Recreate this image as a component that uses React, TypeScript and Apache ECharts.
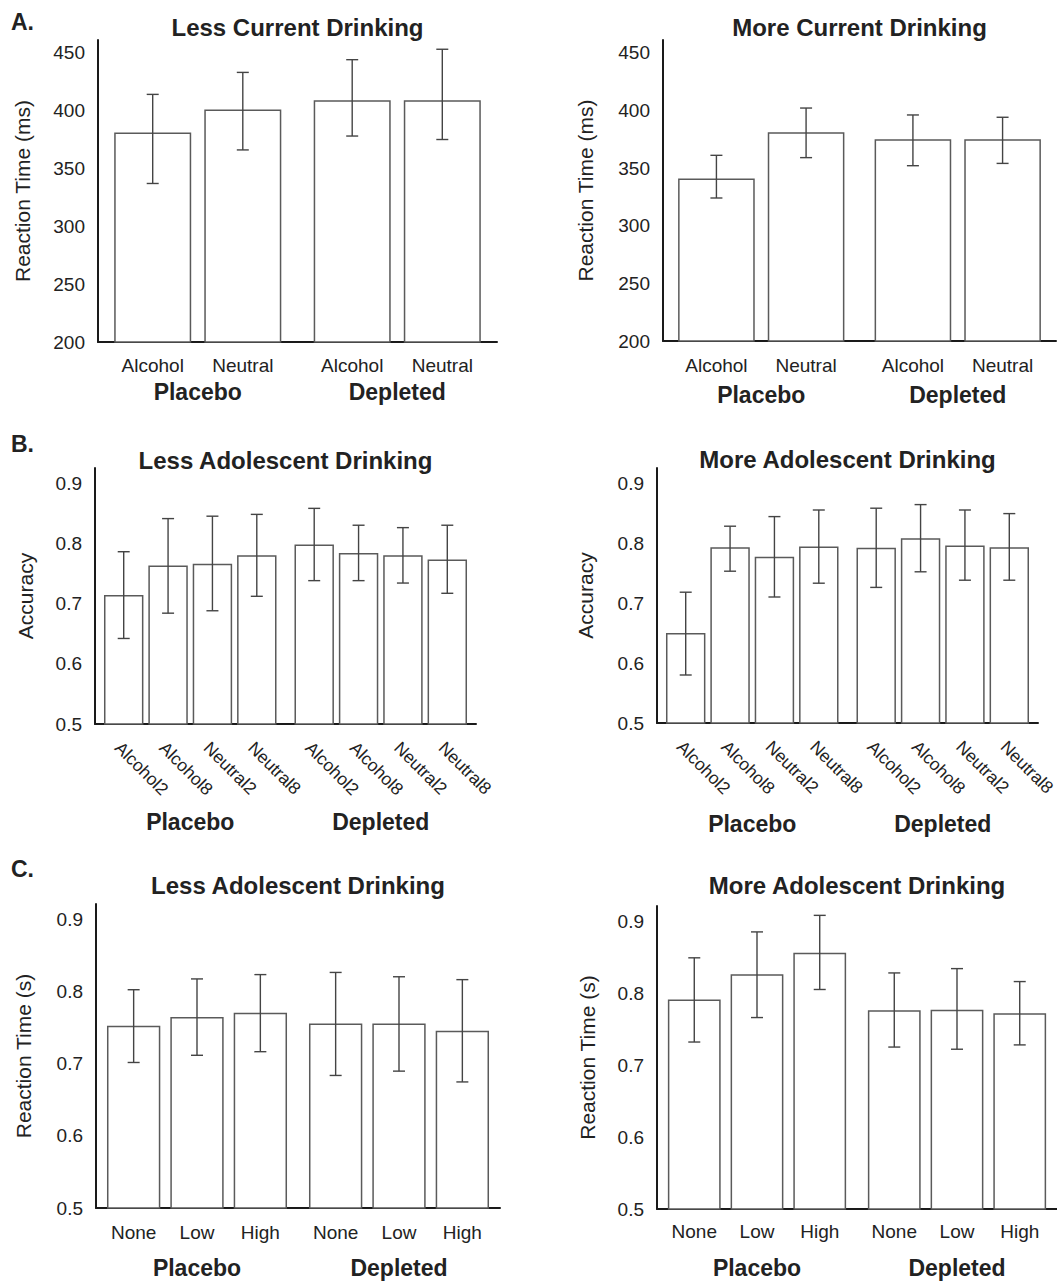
import React, { useEffect, useRef } from "react";
import * as echarts from "echarts";

// ---------------- DATA ----------------
const groups = ["Placebo", "Depleted"];

// Panel A: reaction time (ms), series = cue type, values per group [Placebo, Depleted]
const cueTypesA = ["Alcohol", "Neutral"];
const lessCurrentMean = [[381, 409], [401, 409]];
const lessCurrentLow = [[337, 378], [366, 375]];
const lessCurrentHigh = [[414, 444], [433, 453]];
const moreCurrentMean = [[341, 375], [381, 375]];
const moreCurrentLow = [[324, 352], [359, 354]];
const moreCurrentHigh = [[361, 396], [402, 394]];

// Panel B: accuracy
const cueTypesB = ["Alcohol2", "Alcohol8", "Neutral2", "Neutral8"];
const lessAdolAccMean = [[0.714, 0.798], [0.763, 0.784], [0.766, 0.78], [0.78, 0.773]];
const lessAdolAccLow = [[0.642, 0.738], [0.684, 0.738], [0.688, 0.734], [0.712, 0.717]];
const lessAdolAccHigh = [[0.786, 0.858], [0.841, 0.83], [0.845, 0.826], [0.848, 0.83]];
const moreAdolAccMean = [[0.65, 0.792], [0.793, 0.808], [0.777, 0.796], [0.794, 0.793]];
const moreAdolAccLow = [[0.58, 0.726], [0.753, 0.752], [0.71, 0.738], [0.733, 0.738]];
const moreAdolAccHigh = [[0.718, 0.858], [0.828, 0.864], [0.844, 0.855], [0.855, 0.849]];

// Panel C: reaction time (s)
const levelsC = ["None", "Low", "High"];
const lessAdolRTMean = [[0.753, 0.756], [0.765, 0.756], [0.771, 0.746]];
const lessAdolRTLow = [[0.702, 0.684], [0.712, 0.69], [0.717, 0.675]];
const lessAdolRTHigh = [[0.803, 0.827], [0.818, 0.821], [0.824, 0.817]];
const moreAdolRTMean = [[0.791, 0.776], [0.826, 0.777], [0.856, 0.772]];
const moreAdolRTLow = [[0.732, 0.725], [0.766, 0.722], [0.805, 0.728]];
const moreAdolRTHigh = [[0.849, 0.828], [0.885, 0.834], [0.908, 0.816]];

// ---------------- STYLE / LAYOUT ----------------
const FONT = "'Liberation Sans', Arial, Helvetica, sans-serif";
const TEXT = "#222";
const BAR_STROKE = "#5a5a5a";
const ERR_STROKE = "#444";

type Panel = {
  grid: { left: number; top: number; width: number; height: number };
  title: string;
  titleTop: number;
  yName: string;
  yNameGap: number;
  yMin: number;
  yMax: number;
  yInterval: number;
  decimals: number;
  names: string[];
  mean: number[][];
  low: number[][];
  high: number[][];
  barW: number; // fraction of category band
  barGap: number; // fraction of bar width
  labelDist: number;
  labelSize: number;
  rotate: number;
  groupMargin: number;
};

const panels: Panel[] = [
  {
    grid: { left: 98, top: 40, width: 399, height: 302 },
    title: "Less Current Drinking", titleTop: 15,
    yName: "Reaction Time (ms)", yNameGap: 65,
    yMin: 200, yMax: 461, yInterval: 50, decimals: 0,
    names: cueTypesA, mean: lessCurrentMean, low: lessCurrentLow, high: lessCurrentHigh,
    barW: 0.386, barGap: 0.17, labelDist: 13, labelSize: 19, rotate: 0, groupMargin: 38,
  },
  {
    grid: { left: 663, top: 40, width: 393, height: 301 },
    title: "More Current Drinking", titleTop: 15,
    yName: "Reaction Time (ms)", yNameGap: 67,
    yMin: 200, yMax: 461, yInterval: 50, decimals: 0,
    names: cueTypesA, mean: moreCurrentMean, low: moreCurrentLow, high: moreCurrentHigh,
    barW: 0.39, barGap: 0.17, labelDist: 14, labelSize: 19, rotate: 0, groupMargin: 42,
  },
  {
    grid: { left: 95, top: 468, width: 381, height: 256 },
    title: "Less Adolescent Drinking", titleTop: 448,
    yName: "Accuracy", yNameGap: 59,
    yMin: 0.5, yMax: 0.925, yInterval: 0.1, decimals: 1,
    names: cueTypesB, mean: lessAdolAccMean, low: lessAdolAccLow, high: lessAdolAccHigh,
    barW: 0.207, barGap: 0.125, labelDist: 20, labelSize: 17.5, rotate: -45, groupMargin: 86,
  },
  {
    grid: { left: 657, top: 468, width: 381, height: 255 },
    title: "More Adolescent Drinking", titleTop: 447,
    yName: "Accuracy", yNameGap: 61,
    yMin: 0.5, yMax: 0.925, yInterval: 0.1, decimals: 1,
    names: cueTypesB, mean: moreAdolAccMean, low: moreAdolAccLow, high: moreAdolAccHigh,
    barW: 0.207, barGap: 0.125, labelDist: 20, labelSize: 17.5, rotate: -45, groupMargin: 89,
  },
  {
    grid: { left: 96, top: 904, width: 404, height: 304 },
    title: "Less Adolescent Drinking", titleTop: 873,
    yName: "Reaction Time (s)", yNameGap: 62,
    yMin: 0.5, yMax: 0.922, yInterval: 0.1, decimals: 1,
    names: levelsC, mean: lessAdolRTMean, low: lessAdolRTLow, high: lessAdolRTHigh,
    barW: 0.264, barGap: 0.188, labelDist: 14, labelSize: 19, rotate: 0, groupMargin: 48,
  },
  {
    grid: { left: 657, top: 906, width: 400, height: 303 },
    title: "More Adolescent Drinking", titleTop: 873,
    yName: "Reaction Time (s)", yNameGap: 59,
    yMin: 0.5, yMax: 0.921, yInterval: 0.1, decimals: 1,
    names: levelsC, mean: moreAdolRTMean, low: moreAdolRTLow, high: moreAdolRTHigh,
    barW: 0.264, barGap: 0.188, labelDist: 12.5, labelSize: 19, rotate: 0, groupMargin: 47,
  },
];

const letters = [
  { text: "A.", top: 10 },
  { text: "B.", top: 432 },
  { text: "C.", top: 857 },
];

function buildOption() {
  const grid: any[] = [];
  const xAxis: any[] = [];
  const yAxis: any[] = [];
  const series: any[] = [];
  const title: any[] = [];

  letters.forEach((l) => {
    title.push({
      text: l.text, left: 11, top: l.top, padding: 0,
      textStyle: { fontFamily: FONT, fontSize: 23, fontWeight: "bold", color: TEXT },
    });
  });

  panels.forEach((p, i) => {
    grid.push({ ...p.grid, containLabel: false });
    title.push({
      text: p.title,
      left: p.grid.left + p.grid.width / 2,
      top: p.titleTop,
      textAlign: "center",
      padding: 0,
      textStyle: { fontFamily: FONT, fontSize: 24, fontWeight: "bold", color: TEXT },
    });
    xAxis.push({
      type: "category",
      gridIndex: i,
      data: groups,
      axisLine: { show: true, onZero: false, lineStyle: { color: "#1a1a1a", width: 2 } },
      axisTick: { show: false },
      axisLabel: {
        margin: p.groupMargin,
        fontFamily: FONT, fontSize: 23, fontWeight: "bold", color: TEXT,
      },
      splitLine: { show: false },
    });
    const dec = p.decimals;
    yAxis.push({
      type: "value",
      gridIndex: i,
      min: p.yMin,
      max: p.yMax,
      interval: p.yInterval,
      name: p.yName,
      nameLocation: "middle",
      nameGap: p.yNameGap,
      nameTextStyle: { fontFamily: FONT, fontSize: 21, color: TEXT },
      axisLine: { show: true, lineStyle: { color: "#1a1a1a", width: 2 } },
      axisTick: { show: false },
      splitLine: { show: false },
      axisLabel: {
        showMaxLabel: false,
        margin: 13,
        fontFamily: FONT, fontSize: 19, color: TEXT,
        formatter: (v: number) => {
          const k = (v - p.yMin) / p.yInterval;
          if (Math.abs(k - Math.round(k)) > 1e-6) return "";
          return v.toFixed(dec);
        },
      },
    });

    const n = p.names.length;
    p.names.forEach((name, s) => {
      series.push({
        type: "bar",
        name,
        xAxisIndex: i,
        yAxisIndex: i,
        data: p.mean[s],
        barWidth: (p.barW * 100).toFixed(2) + "%",
        barGap: (p.barGap * 100).toFixed(2) + "%",
        itemStyle: { color: "#ffffff", borderColor: BAR_STROKE, borderWidth: 1.5 },
        label: p.rotate
          ? {
              show: true,
              position: "bottom",
              distance: p.labelDist,
              formatter: name,
              rotate: p.rotate,
              align: "left",
              verticalAlign: "middle",
              offset: [-4, 4],
              fontFamily: FONT, fontSize: p.labelSize, color: TEXT,
            }
          : {
              show: true,
              position: "bottom",
              distance: p.labelDist,
              formatter: name,
              fontFamily: FONT, fontSize: p.labelSize, color: TEXT,
            },
        emphasis: { disabled: true },
        silent: true,
      });
    });

    const errData: number[][] = [];
    p.names.forEach((_, s) => {
      groups.forEach((_, g) => {
        errData.push([g, p.low[s][g], p.high[s][g], s]);
      });
    });
    const bw = p.barW;
    const bg = p.barGap;
    series.push({
      type: "custom",
      xAxisIndex: i,
      yAxisIndex: i,
      z: 10,
      silent: true,
      data: errData,
      encode: { x: 0, y: [1, 2] },
      renderItem: (_params: any, api: any) => {
        const g = api.value(0);
        const lo = api.value(1);
        const hi = api.value(2);
        const s = api.value(3);
        const band = api.size([1, 0])[0];
        const barPx = band * bw;
        const step = barPx * (1 + bg);
        const dx = (s - (n - 1) / 2) * step;
        const pLo = api.coord([g, lo]);
        const pHi = api.coord([g, hi]);
        const x = pLo[0] + dx;
        const cap = 6;
        const style = { stroke: ERR_STROKE, lineWidth: 1.4 };
        return {
          type: "group",
          children: [
            { type: "line", shape: { x1: x, y1: pHi[1], x2: x, y2: pLo[1] }, style },
            { type: "line", shape: { x1: x - cap, y1: pHi[1], x2: x + cap, y2: pHi[1] }, style },
            { type: "line", shape: { x1: x - cap, y1: pLo[1], x2: x + cap, y2: pLo[1] }, style },
          ],
        };
      },
    });
  });

  return {
    animation: false,
    backgroundColor: "#ffffff",
    textStyle: { fontFamily: FONT },
    title,
    grid,
    xAxis,
    yAxis,
    series,
  };
}

export default function App() {
  const ref = useRef<HTMLDivElement>(null);
  useEffect(() => {
    if (!ref.current) return;
    const chart = echarts.init(ref.current, undefined, { renderer: "svg" });
    chart.setOption(buildOption() as any);
    return () => chart.dispose();
  }, []);
  return (
    <div
      ref={ref}
      style={{ position: "absolute", left: 0, top: 0, width: 1057, height: 1281, background: "#fff" }}
    />
  );
}
